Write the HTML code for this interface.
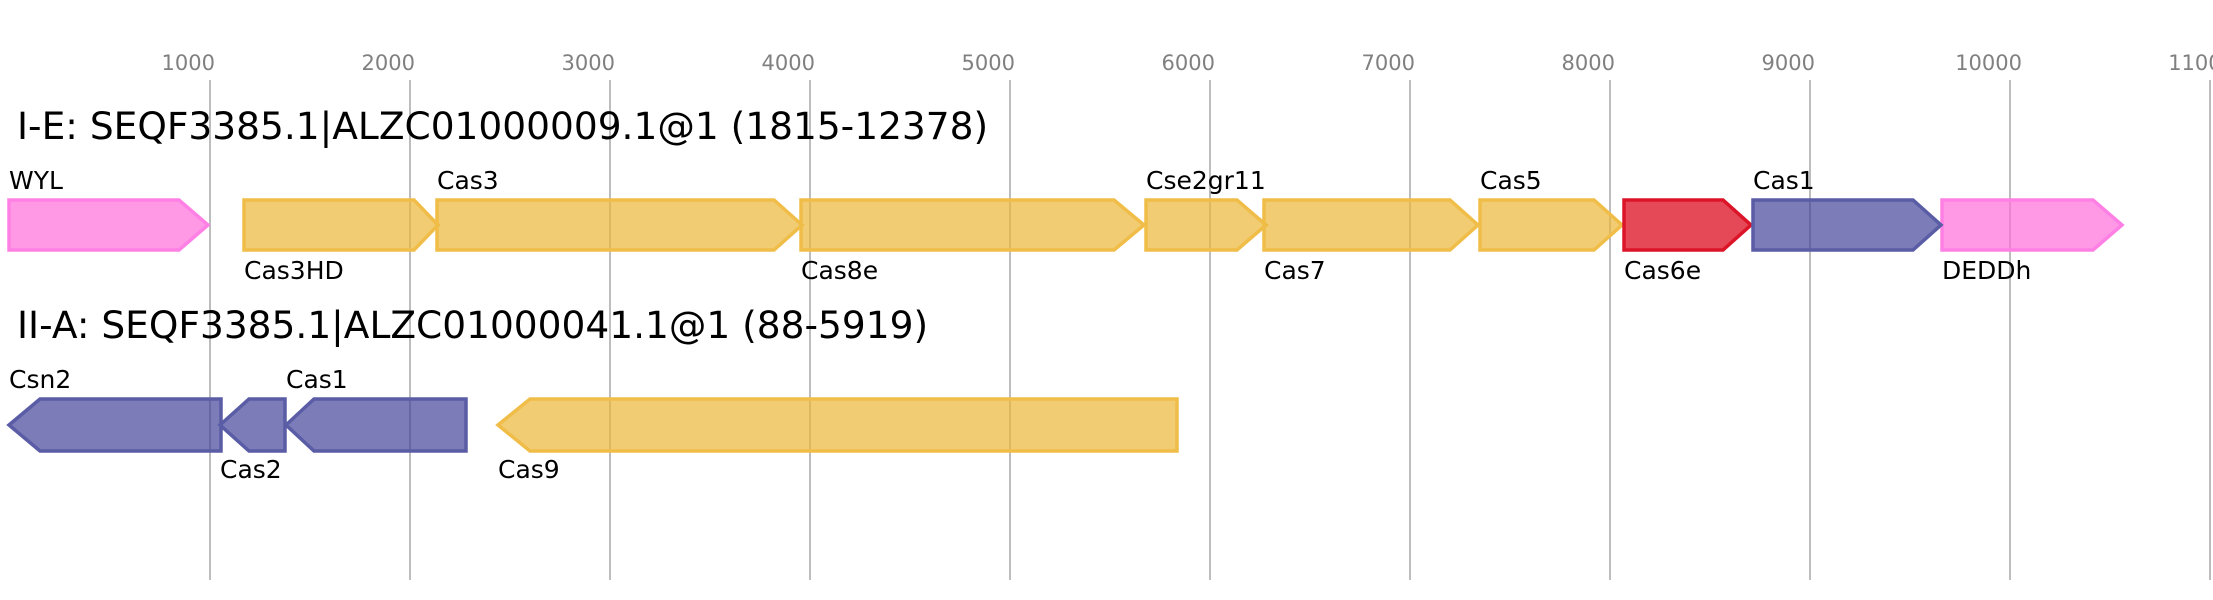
<!DOCTYPE html>
<html><head><meta charset="utf-8"><style>html,body{margin:0;padding:0;background:#fff}svg{display:block}</style></head>
<body>
<svg width="2213" height="600" xmlns="http://www.w3.org/2000/svg" font-family="'DejaVu Sans','Liberation Sans',sans-serif">
<rect width="2213" height="600" fill="#fff"/>
<g stroke="#bdbdbd" stroke-width="2">
<line x1="210" y1="80" x2="210" y2="580"/><line x1="410" y1="80" x2="410" y2="580"/><line x1="610" y1="80" x2="610" y2="580"/><line x1="810" y1="80" x2="810" y2="580"/><line x1="1010" y1="80" x2="1010" y2="580"/><line x1="1210" y1="80" x2="1210" y2="580"/><line x1="1410" y1="80" x2="1410" y2="580"/><line x1="1610" y1="80" x2="1610" y2="580"/><line x1="1810" y1="80" x2="1810" y2="580"/><line x1="2010" y1="80" x2="2010" y2="580"/><line x1="2210" y1="80" x2="2210" y2="580"/>
</g>
<g fill="#808080" font-size="21" text-anchor="end">
<text x="215" y="70">1000</text><text x="415" y="70">2000</text><text x="615" y="70">3000</text><text x="815" y="70">4000</text><text x="1015" y="70">5000</text><text x="1215" y="70">6000</text><text x="1415" y="70">7000</text><text x="1615" y="70">8000</text><text x="1815" y="70">9000</text><text x="2022" y="70">10000</text><text x="2235" y="70">11000</text>
</g>
<text x="17" y="139" font-size="37.5" fill="#000">I-E: SEQF3385.1|ALZC01000009.1@1 (1815-12378)</text>
<text x="17" y="338" font-size="37.5" fill="#000">II-A: SEQF3385.1|ALZC01000041.1@1 (88-5919)</text>
<g stroke-width="3.5">
<g fill="rgba(255,110,220,0.7)" stroke="#ff80e4">
<polygon points="9,200 179,200 208,225 179,250 9,250"/>
<polygon points="1942,200 2093,200 2122,225 2093,250 1942,250"/>
</g>
<g fill="rgba(235,182,56,0.7)" stroke="#f0bd48">
<polygon points="244,200 414,200 438,225 414,250 244,250"/>
<polygon points="437,200 774,200 802,225 774,250 437,250"/>
<polygon points="801,200 1114,200 1144,225 1114,250 801,250"/>
<polygon points="1146,200 1237,200 1266,225 1237,250 1146,250"/>
<polygon points="1264,200 1450,200 1478,225 1450,250 1264,250"/>
<polygon points="1480,200 1594,200 1622,225 1594,250 1480,250"/>
<polygon points="498,425 530,399 1177,399 1177,451 530,451"/>
</g>
<g fill="rgba(222,20,38,0.78)" stroke="#dc1428">
<polygon points="1624,200 1723,200 1751,225 1723,250 1624,250"/>
</g>
<g fill="rgba(60,62,150,0.68)" stroke="#5a5ca6">
<polygon points="1753,200 1913,200 1941,225 1913,250 1753,250"/>
<polygon points="9,425 40,399 221,399 221,451 40,451"/>
<polygon points="220,425 249,399 285,399 285,451 249,451"/>
<polygon points="286,425 314,399 466,399 466,451 314,451"/>
</g>
</g>
<g font-size="25" fill="#000">
<text x="9" y="189">WYL</text>
<text x="244" y="279">Cas3HD</text>
<text x="437" y="189">Cas3</text>
<text x="801" y="279">Cas8e</text>
<text x="1146" y="189">Cse2gr11</text>
<text x="1264" y="279">Cas7</text>
<text x="1480" y="189">Cas5</text>
<text x="1624" y="279">Cas6e</text>
<text x="1753" y="189">Cas1</text>
<text x="1942" y="279">DEDDh</text>
<text x="9" y="388">Csn2</text>
<text x="220" y="478">Cas2</text>
<text x="286" y="388">Cas1</text>
<text x="498" y="478">Cas9</text>
</g>
</svg>
</body></html>
